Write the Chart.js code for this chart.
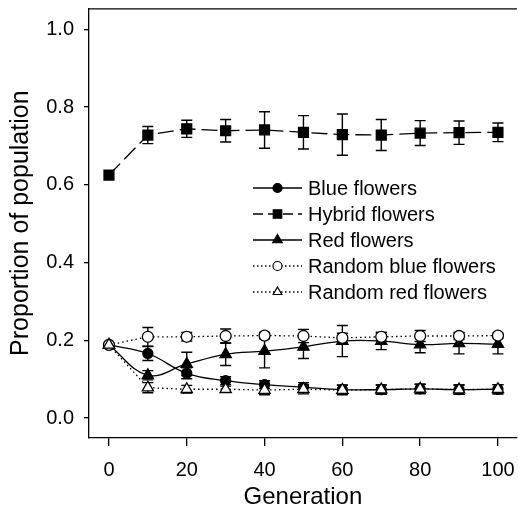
<!DOCTYPE html>
<html>
<head>
<meta charset="utf-8">
<style>
html,body{margin:0;padding:0;background:#fff;overflow:hidden;}
#wrap{width:518px;height:520px;position:relative;overflow:hidden;}
canvas{display:block;}
</style>
<script src="https://cdn.jsdelivr.net/npm/chart.js@4.4.1/dist/chart.umd.min.js"></script>
</head>
<body>
<div id="wrap"><canvas id="c" width="527" height="520"></canvas></div>
<script>
const generations = [0, 10, 20, 30, 40, 50, 60, 70, 80, 90, 100];
const xTicks = [0, 20, 40, 60, 80, 100];
const yTicks = [0, 0.2, 0.4, 0.6, 0.8, 1.0];

const blueFlowers    = [0.188, 0.166, 0.115, 0.096, 0.086, 0.079, 0.073, 0.073, 0.075, 0.073, 0.074];
const blueErr        = [0, 0.018, 0.014, 0.010, 0.010, 0.012, 0.012, 0.012, 0.012, 0.012, 0.012];
const hybridFlowers  = [0.625, 0.728, 0.744, 0.739, 0.741, 0.735, 0.729, 0.728, 0.733, 0.734, 0.735];
const hybridErr      = [0, 0.022, 0.022, 0.029, 0.047, 0.043, 0.053, 0.040, 0.032, 0.030, 0.024];
const redFlowers     = [0.188, 0.110, 0.139, 0.164, 0.172, 0.183, 0.198, 0.198, 0.189, 0.192, 0.190];
const redErr         = [0, 0.012, 0.030, 0.029, 0.043, 0.030, 0.040, 0.022, 0.021, 0.027, 0.025];
const randomBlue     = [0.188, 0.209, 0.209, 0.211, 0.212, 0.211, 0.206, 0.209, 0.211, 0.211, 0.212];
const randomBlueErr  = [0, 0.024, 0.011, 0.018, 0.008, 0.017, 0.012, 0.011, 0.014, 0.009, 0.006];
const randomRed      = [0.188, 0.078, 0.074, 0.074, 0.072, 0.074, 0.072, 0.073, 0.075, 0.073, 0.074];
const randomRedErr   = [0, 0.013, 0.010, 0.008, 0.012, 0.012, 0.012, 0.012, 0.012, 0.012, 0.012];

const seriesNames = ['Blue flowers', 'Hybrid flowers', 'Red flowers', 'Random blue flowers', 'Random red flowers'];

Chart.defaults.font.family = '"Liberation Sans", Arial, Helvetica, sans-serif';
Chart.defaults.color = '#000';

function pts(arr){ return generations.map((g,i)=>({x:g, y:arr[i]})); }

const styles = [
  {vals: blueFlowers, err: blueErr, shape:'circle', r:5, fill:'#000', dash:[], tension:0.4, order:3},
  {vals: hybridFlowers, err: hybridErr, shape:'rect', r:7, fill:'#000', dash:[16,6], tension:0, order:4},
  {vals: redFlowers, err: redErr, shape:'triangle', r:6.5, fill:'#000', dash:[], tension:0.4, order:2},
  {vals: randomBlue, err: randomBlueErr, shape:'circle', r:5.5, fill:'#fff', dash:[1.5,3], tension:0, order:1},
  {vals: randomRed, err: randomRedErr, shape:'triangle', r:6.5, fill:'#fff', dash:[1.5,3], tension:0, order:0}
];

const datasets = styles.map((s,i)=>({
  label: seriesNames[i],
  data: pts(s.vals),
  errors: s.err,
  borderColor:'#000',
  borderWidth:1.3,
  borderDash:s.dash,
  tension:s.tension,
  pointStyle:s.shape,
  pointRadius:s.r,
  pointHoverRadius:s.r,
  pointBackgroundColor:s.fill,
  pointBorderColor:'#000',
  pointBorderWidth:1.3,
  fill:false,
  order:s.order
}));

const errorBars = {
  id:'errorBars',
  beforeDatasetsDraw(chart){
    const ctx = chart.ctx, xs = chart.scales.x, ys = chart.scales.y;
    ctx.save();
    ctx.strokeStyle = '#000'; ctx.lineWidth = 1.4; ctx.setLineDash([]);
    chart.data.datasets.forEach(ds=>{
      ds.data.forEach((p,i)=>{
        const e = ds.errors[i];
        if(!e) return;
        const px = xs.getPixelForValue(p.x);
        const t = ys.getPixelForValue(p.y+e), b = ys.getPixelForValue(p.y-e);
        ctx.beginPath();
        ctx.moveTo(px,t); ctx.lineTo(px,b);
        ctx.moveTo(px-5.5,t); ctx.lineTo(px+5.5,t);
        ctx.moveTo(px-5.5,b); ctx.lineTo(px+5.5,b);
        ctx.stroke();
      });
    });
    ctx.restore();
  }
};

function drawMarker(ctx, shape, x, y, r, fill){
  ctx.beginPath();
  if(shape==='circle'){ ctx.arc(x,y,r,0,Math.PI*2); }
  else if(shape==='rect'){ const s=r*Math.SQRT1_2; ctx.rect(x-s,y-s,2*s,2*s); }
  else { ctx.moveTo(x, y-r); ctx.lineTo(x+r*0.866, y+r*0.5); ctx.lineTo(x-r*0.866, y+r*0.5); ctx.closePath(); }
  ctx.fillStyle = fill; ctx.fill();
  ctx.setLineDash([]); ctx.lineWidth=1.2; ctx.strokeStyle='#000'; ctx.stroke();
}

const frameAndLegend = {
  id:'frameAndLegend',
  afterDraw(chart){
    const ctx = chart.ctx, a = chart.chartArea;
    ctx.save();
    ctx.strokeStyle='#000'; ctx.lineWidth=1.3;
    ctx.beginPath();
    ctx.moveTo(a.left, a.top+0.5); ctx.lineTo(a.right, a.top+0.5);
    ctx.stroke();
    const rows = [188, 214, 240, 266, 292];
    const lx0 = 253, lx1 = 302, mx = 277.5, tx = 308;
    const legDash = [[],[10,5],[],[1.5,2.5],[1.5,2.5]];
    const legR = [4.5, 6, 5.5, 4.5, 5];
    styles.forEach((s,i)=>{
      const y = rows[i];
      ctx.setLineDash(legDash[i]); ctx.lineWidth=1.3; ctx.strokeStyle='#000';
      ctx.beginPath(); ctx.moveTo(lx0,y); ctx.lineTo(lx1,y); ctx.stroke();
      drawMarker(ctx, s.shape, mx, y, legR[i], s.fill);
      ctx.setLineDash([]);
      ctx.fillStyle='#000';
      ctx.font = '20px "Liberation Sans", Arial, sans-serif';
      ctx.textAlign='left'; ctx.textBaseline='middle';
      ctx.fillText(seriesNames[i], tx, y+1);
    });
    ctx.restore();
  }
};

new Chart(document.getElementById('c'), {
  type:'line',
  data:{datasets},
  options:{
    responsive:false,
    animation:false,
    events:[],
    layout:{padding:{top:8,left:0,right:0,bottom:0}},
    plugins:{legend:{display:false}, tooltip:{enabled:false}},
    scales:{
      x:{
        type:'linear', min:-5.13, max:104.87,
        afterBuildTicks(s){ s.ticks = xTicks.map(v=>({value:v})); },
        afterFit(s){ s.height = 82; },
        grid:{display:true, drawOnChartArea:false, drawTicks:true, tickLength:8, color:'#000', lineWidth:1.3},
        border:{display:true, color:'#000', width:1.3},
        ticks:{font:{size:20}, padding:12, color:'#000', maxRotation:0, callback:v=>String(v)},
        title:{display:true, text:'Generation', font:{size:24}, padding:{top:0,bottom:8}, color:'#000'}
      },
      y:{
        type:'linear', min:-0.0514, max:1.054,
        afterBuildTicks(s){ s.ticks = yTicks.map(v=>({value:v})); },
        afterFit(s){ s.width = 89; s.paddingTop = 0; s.paddingBottom = 0; },
        grid:{display:true, drawOnChartArea:false, drawTicks:true, tickLength:5, color:'#000', lineWidth:1.3},
        border:{display:true, color:'#000', width:1.3},
        ticks:{font:{size:20}, padding:10, color:'#000', callback:v=>Number(v).toFixed(1)},
        title:{display:true, text:'Proportion of population', font:{size:25}, padding:{top:6,bottom:0}, color:'#000'}
      }
    }
  },
  plugins:[errorBars, frameAndLegend]
});
</script>
</body>
</html>
